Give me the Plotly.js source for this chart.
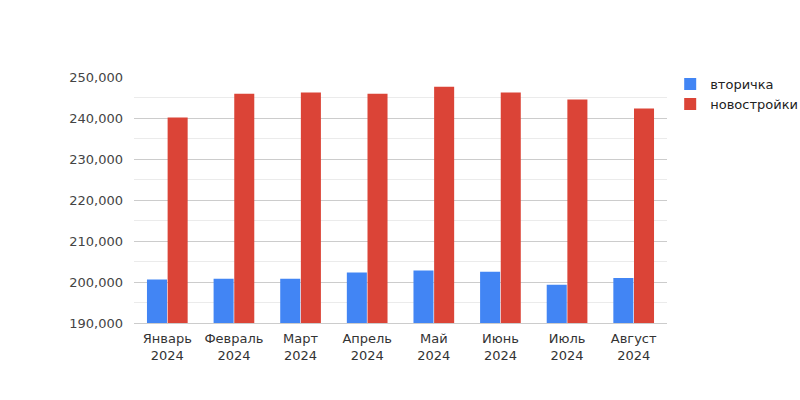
<!DOCTYPE html>
<html>
<head>
<meta charset="utf-8">
<script src="https://cdn.plot.ly/plotly-3.0.1.min.js"></script>
<style>html,body{margin:0;padding:0;background:#fff}#chart{width:800px;height:400px}</style>
</head>
<body>
<div id="chart"></div>
<script>
const months = ["Январь<br>2024","Февраль<br>2024","Март<br>2024","Апрель<br>2024","Май<br>2024","Июнь<br>2024","Июль<br>2024","Август<br>2024"];
const secondary = [200600, 200800, 200800, 202300, 202800, 202500, 199300, 201000];
const newBuild = [240100, 245900, 246200, 245900, 247600, 246200, 244500, 242300];
const seriesNames = ["вторичка", "новостройки"];
const yTicks = [190000, 200000, 210000, 220000, 230000, 240000, 250000];

const font = "DejaVu Sans, sans-serif";
const data = [
  {type:"bar", name:seriesNames[0], x:months, y:secondary, marker:{color:"#4285f4"}, hoverinfo:"none"},
  {type:"bar", name:seriesNames[1], x:months, y:newBuild, marker:{color:"#db4437"}, hoverinfo:"none"}
];
const layout = {
  width:800, height:400,
  margin:{l:134, r:133, t:77, b:77, autoexpand:false},
  paper_bgcolor:"#fff", plot_bgcolor:"#fff",
  font:{family:font, size:13, color:"#444"},
  barmode:"group", bargap:0.38, bargroupgap:0.03,
  showlegend:true,
  legend:{x:1.006, y:1.032, xanchor:"left", yanchor:"top", font:{family:font, size:13, color:"#222"}, tracegroupgap:0, itemwidth:30, traceorder:"normal"},
  xaxis:{showgrid:false, zeroline:false, showline:true, linecolor:"#ccc", linewidth:1, ticks:"", ticklabelstandoff:3, tickfont:{family:font, size:13, color:"#333"}, fixedrange:true},
  yaxis:{range:[190000,250000], tickvals:yTicks, tickformat:",d", showgrid:true, gridcolor:"#cccccc", zeroline:false, showline:false, ticks:"", ticklabelstandoff:10, tickfont:{family:font, size:13, color:"#444"},
    minor:{dtick:5000, tick0:190000, showgrid:true, gridcolor:"#ebebeb", ticks:""}, fixedrange:true}
};
Plotly.newPlot("chart", data, layout, {displayModeBar:false, staticPlot:true});
</script>
</body>
</html>
